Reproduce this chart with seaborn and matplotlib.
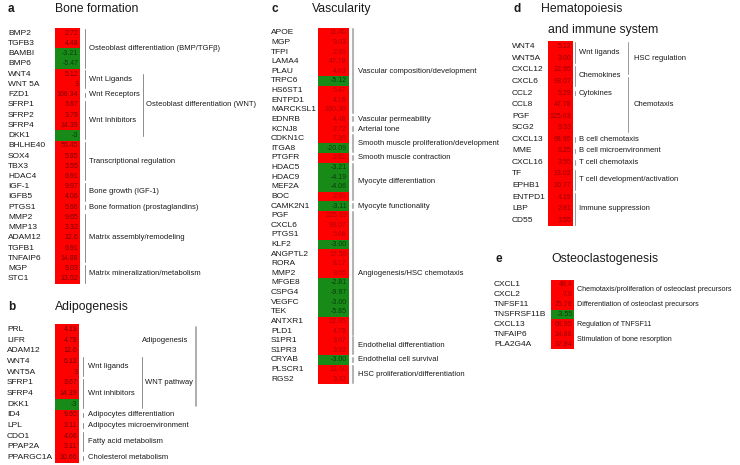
import numpy as np
import pandas as pd
import matplotlib
matplotlib.use("Agg")
import matplotlib.pyplot as plt
import seaborn as sns
from matplotlib.colors import ListedColormap
from matplotlib.lines import Line2D
from matplotlib.transforms import blended_transform_factory

# --- data: fold changes per panel ---
a_genes = ["BMP2", "TGFB3", "BAMBI", "BMP6", "WNT4", "WNT 5A", "FZD1", "SFRP1", "SFRP2",
           "SFRP4", "DKK1", "BHLHE40", "SOX4", "TBX3", "HDAC4", "IGF-1", "IGFB5", "PTGS1",
           "MMP2", "MMP13", "ADAM12", "TGFB1", "TNFAIP6", "MGP", "STC1"]
a_fc = [2.72, 4.48, -3.21, -5.47, 5.12, 3, 106.34, 3.67, 3.79, 14.39, -3, 56.45, 5.85,
        3.55, 6.91, 9.97, 4.06, 5.66, 9.65, 3.32, 12.6, 6.91, 14.88, 9.03, 13.02]
a_groups = [("Osteoblast differentiation (BMP/TGFβ)", 0, 3, 1),
            ("Wnt Ligands", 4, 5, 1),
            ("Wnt Receptors", 6, 6, 1),
            ("Wnt Inhibitors", 7, 10, 1),
            ("Osteoblast differentiation (WNT)", 4, 10, 2),
            ("Transcriptional regulation", 11, 14, 1),
            ("Bone growth (IGF-1)", 15, 16, 1),
            ("Bone formation (prostaglandins)", 17, 17, 1),
            ("Matrix assembly/remodeling", 18, 22, 1),
            ("Matrix mineralization/metabolism", 23, 24, 1)]

b_genes = ["PRL", "LIFR", "ADAM12", "WNT4", "WNT5A", "SFRP1", "SFRP4", "DKK1", "ID4",
           "LPL", "CDO1", "PPAP2A", "PPARGC1A"]
b_fc = [4.19, 4.79, 12.6, 6.12, 3, 3.67, 14.39, -3, 9.65, 3.11, 4.06, 3.11, 10.66]
b_groups = [("Adipogenesis", 0, 7, 3),
            ("Wnt ligands", 3, 4, 1),
            ("Wnt inhibitors", 5, 7, 1),
            ("WNT pathway", 3, 7, 2),
            ("Adipocytes differentiation", 8, 8, 1),
            ("Adipocytes microenvironment", 9, 9, 1),
            ("Fatty acid metabolism", 10, 11, 1),
            ("Cholesterol metabolism", 12, 12, 1)]

c_genes = ["APOE", "MGP", "TFPI", "LAMA4", "PLAU", "TRPC6", "HS6ST1", "ENTPD1", "MARCKSL1",
           "EDNRB", "KCNJ8", "CDKN1C", "ITGA8", "PTGFR", "HDAC5", "HDAC9", "MEF2A", "BOC",
           "CAMK2N1", "PGF", "CXCL6", "PTGS1", "KLF2", "ANGPTL2", "RORA", "MMP2", "MFGE8",
           "CSPG4", "VEGFC", "TEK", "ANTXR1", "PLD1", "S1PR1", "S1PR3", "CRYAB", "PLSCR1", "RGS2"]
c_fc = [11.40, 9.03, 2.91, 47.78, 4.63, -5.12, 5.47, 4.19, 330.30, 4.48, 2.72, 7.39, -20.09,
        2.81, -3.21, -4.19, -4.06, 2.91, -3.11, 125.63, 93.07, 5.66, -3.00, 17.56, 8.17, 9.65,
        -2.81, -9.97, -3.00, -5.85, 22.95, 4.79, 3.67, 3.92, -3.00, 12.60, 3.32]
c_groups = [("Vascular composition/development", 0, 8, 1),
            ("Vascular permeability", 9, 9, 1),
            ("Arterial tone", 10, 10, 1),
            ("Smooth muscle proliferation/development", 11, 12, 1),
            ("Smooth muscle contraction", 13, 13, 1),
            ("Myocyte differentiation", 14, 17, 1),
            ("Myocyte functionality", 18, 18, 1),
            ("Angiogenesis/HSC chemotaxis", 19, 31, 1),
            ("Endothelial differentiation", 32, 33, 1),
            ("Endothelial cell survival", 34, 34, 1),
            ("HSC proliferation/differentiation", 35, 36, 1)]

d_genes = ["WNT4", "WNT5A", "CXCL12", "CXCL6", "CCL2", "CCL8", "PGF", "SCG2", "CXCL13",
           "MME", "CXCL16", "TF", "EPHB1", "ENTPD1", "LBP", "CD55"]
d_fc = [5.12, 3.00, 22.95, 93.07, 5.29, 47.78, 125.63, 9.33, 68.95, 6.25, 3.55, 13.02,
        20.77, 4.19, 2.81, 3.55]
d_groups = [("Wnt ligands", 0, 1, 1),
            ("Chemokines", 2, 3, 1),
            ("Cytokines", 4, 4, 1),
            ("HSC regulation", 0, 2, 2),
            ("Chemotaxis", 3, 7, 2),
            ("B cell chemotaxis", 8, 8, 1),
            ("B cell microenvironment", 9, 9, 1),
            ("T cell chemotaxis", 10, 10, 1),
            ("T cell development/activation", 11, 12, 1),
            ("Immune suppression", 13, 15, 1)]

e_genes = ["CXCL1", "CXCL2", "TNFSF11", "TNSFRSF11B", "CXCL13", "TNFAIP6", "PLA2G4A"]
e_fc = [49.4, 7.9, 75.78, -3.55, 68.95, 14.88, 37.84]
e_groups = [("Chemotaxis/proliferation of osteoclast precursors", 0, 1, 1),
            ("Differentiation of osteoclast precursors", 2, 2, 1),
            ("Regulation of TNFSF11", 4, 4, 1),
            ("Stimulation of bone resorption", 5, 6, 1)]

# --- figure setup ---
sns.set_theme(style="white")
plt.rcParams["font.family"] = ["Liberation Sans", "DejaVu Sans"]

W, H = 740, 465
fig = plt.figure(figsize=(W / 100, H / 100), dpi=100)

RED, GREEN = "#ff0000", "#188a18"
cmap = ListedColormap([GREEN, RED])
TXT = "#1a1a1a"


def draw_heat(genes, fc, fmt, x0, x1, y0, y1, label_x, num_color):
    # pixel box -> figure fraction
    ax = fig.add_axes([x0 / W, 1 - y1 / H, (x1 - x0) / W, (y1 - y0) / H])
    df = pd.DataFrame({"fc": fc}, index=genes)
    sns.heatmap((df > 0).astype(int), cmap=cmap, vmin=0, vmax=1, cbar=False, ax=ax,
                xticklabels=False, yticklabels=genes)
    ax.set_ylabel("")
    ax.set_yticklabels(genes, rotation=0, fontsize=6, ha="left", color=TXT)
    ax.tick_params(axis="y", length=0, pad=(x0 - label_x) * 0.72)
    for i, v in enumerate(fc):
        ax.text(0.93, i + 0.5, format(v, fmt), ha="right", va="center", fontsize=5,
                color=num_color if v > 0 else "#0b3d0b")
    return ax


def bracket(ax, label, first, last, line_x, text_x, color="#8c8c8c", lw=0.7,
            inset=0.12, line=True, text_y=None, size=5.5):
    tr = blended_transform_factory(fig.transFigure, ax.transData)
    if line:
        ins = inset if last > first else 0.3
        ax.add_artist(Line2D([line_x / W] * 2, [first + ins, last + 1 - ins], transform=tr,
                             color=color, lw=lw, clip_on=False))
    y = (first + last + 1) / 2 if text_y is None else text_y
    ax.text(text_x / W, y, label, transform=tr, ha="left", va="center", fontsize=size,
            color=TXT, clip_on=False)


def title(x_letter, x_title, y, letter, text):
    fig.text(x_letter / W, 1 - y / H, letter, fontsize=8.5, fontweight="bold", color=TXT,
             va="baseline")
    fig.text(x_title / W, 1 - y / H, text, fontsize=8.8, color=TXT, va="baseline")


# panel a
title(8, 55, 12, "a", "Bone formation")
ax_a = draw_heat(a_genes, a_fc, "g", 55, 80, 28, 284, 8, "#7a0000")
a_x = {1: (85, 89), 2: (143, 146)}
for lab, f, l, lev in a_groups:
    bracket(ax_a, lab, f, l, *a_x[lev], inset=0.12 if lev == 1 else 0.5)

# panel b
title(8, 55, 310, "b", "Adipogenesis")
ax_b = draw_heat(b_genes, b_fc, "g", 55, 79, 324, 463, 7, "#7a0000")
b_x = {1: (83, 88), 2: (142, 145), 3: (196, 142)}
for lab, f, l, lev in b_groups:
    if lev == 3:
        bracket(ax_b, lab, f, l, *b_x[lev], color="#a0a0a0", lw=1.2, inset=0.3,
                text_y=f + 1.5)
    else:
        bracket(ax_b, lab, f, l, *b_x[lev])

# panel c
title(272, 312, 12, "c", "Vascularity")
ax_c = draw_heat(c_genes, c_fc, ".2f", 318, 349, 28, 384, 271, "#b00000")
for lab, f, l, lev in c_groups:
    bracket(ax_c, lab, f, l, 353, 358, color="#b4b4b4", lw=1.5)

# panel d
title(513, 541, 12, "d", "Hematopoiesis")
fig.text(548 / W, 1 - 33 / H, "and immune system", fontsize=8.8, color=TXT, va="baseline")
ax_d = draw_heat(d_genes, d_fc, ".2f", 548, 573, 41, 226, 512, "#990000")
d_x = {1: (575, 579), 2: (628, 634)}
for lab, f, l, lev in d_groups:
    bracket(ax_d, lab, f, l, *d_x[lev], color="#9a9a9a", lw=0.7)

# panel e (no bracket lines)
title(495, 551, 262, "e", "Osteoclastogenesis")
ax_e = draw_heat(e_genes, e_fc, "g", 551, 574, 280, 349, 494, "#990000")
for lab, f, l, lev in e_groups:
    bracket(ax_e, lab, f, l, 575, 577, line=False, size=5.1)

fig.savefig("out.png", dpi=100)
